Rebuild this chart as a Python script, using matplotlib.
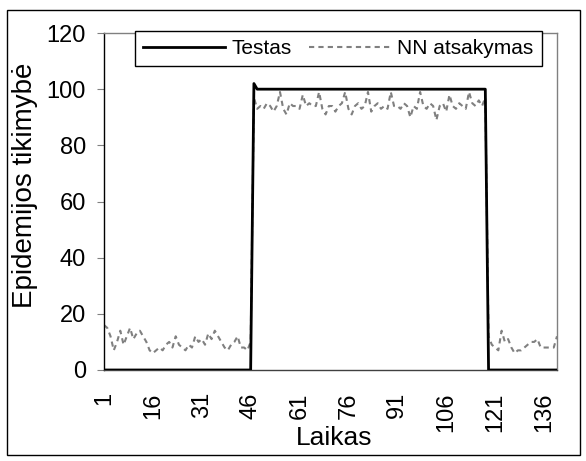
import matplotlib.pyplot as plt
from matplotlib.patches import Rectangle

# --- data ---
laikas = list(range(1, 141))
testas = [0] * 46 + [102] + [100] * 71 + [0] * 22
nn_atsakymas = [
    16, 15, 12, 7, 10, 14, 9, 12, 15, 11, 13, 14, 12, 10, 7, 6, 7, 8, 7, 9,
    10, 8, 12, 9, 8, 7, 9, 8, 12, 10, 11, 9, 13, 11, 14, 12, 10, 8, 7, 9,
    10, 12, 8, 8, 7, 10,
    97, 93, 94, 93, 95, 94, 92, 94, 99, 93, 91, 95, 94, 94, 93, 98, 94, 95,
    94, 94, 99, 93, 91, 94, 94, 92, 94, 95, 99, 93, 91, 94, 95, 93, 94, 99,
    92, 94, 95, 93, 94, 93, 99, 94, 94, 93, 95, 94, 90, 94, 93, 99, 94, 93,
    95, 94, 89, 94, 95, 92, 98, 94, 93, 95, 94, 93, 99, 95, 94, 96, 94, 97,
    12, 9, 8, 7, 14, 10, 11, 8, 6, 7, 7, 8, 9, 10, 10, 11, 8, 8, 8, 8, 8, 12,
]
x_ticks = list(range(1, 141, 15))
y_ticks = [0, 20, 40, 60, 80, 100, 120]

plt.rcParams['font.family'] = ['Liberation Sans', 'DejaVu Sans']
W, H = 586, 461
fig = plt.figure(figsize=(W / 100, H / 100), dpi=100)
ax = fig.add_axes([104 / W, 1 - 370 / H, (557 - 104) / W, (370 - 33) / H])

gray = '#808080'
ax.plot(laikas, nn_atsakymas, color=gray, lw=1.5, ls=(0, (2.5, 2)), label='NN atsakymas', zorder=2)
ax.plot(laikas, testas, color='black', lw=2, label='Testas', zorder=3)

ax.set_xlim(1, 140)
ax.set_ylim(0, 120)
ax.set_yticks(y_ticks)
ax.set_xticks(x_ticks)
ax.set_xticklabels([str(t) for t in x_ticks], rotation=90, fontsize=17)
ax.tick_params(axis='y', labelsize=17, length=5, color=gray, pad=8)
ax.tick_params(axis='x', length=0, pad=16)

ax.spines['left'].set_color('black')
ax.spines['bottom'].set_color('#404040')
for s in ('top', 'right'):
    ax.spines[s].set_color(gray)
for s in ax.spines.values():
    s.set_linewidth(1)

handles, labels = ax.get_legend_handles_labels()
leg = ax.legend(handles[::-1], labels[::-1], ncol=2, loc='center', mode='expand',
                bbox_to_anchor=(135 / W, 1 - 70 / H, (542 - 135) / W, 43 / H),
                bbox_transform=fig.transFigure, fontsize=15, handlelength=3.9,
                handletextpad=0.35, columnspacing=0.5, fancybox=False,
                framealpha=1, borderaxespad=0)
leg.get_frame().set_edgecolor('black')
leg.get_frame().set_linewidth(1)
leg.set_zorder(5)

fig.text(25 / W, 1 - 185 / H, 'Epidemijos tikimybė', rotation=90, fontsize=20,
         ha='center', va='center')
fig.text(334 / W, 1 - 438 / H, 'Laikas', fontsize=19, ha='center', va='center')

fig.patches.append(Rectangle((7 / W, 1 - 455 / H), (580 - 7) / W, (455 - 10) / H,
                             transform=fig.transFigure, fill=False,
                             edgecolor='black', lw=1))

fig.savefig('out.png', dpi=100)
